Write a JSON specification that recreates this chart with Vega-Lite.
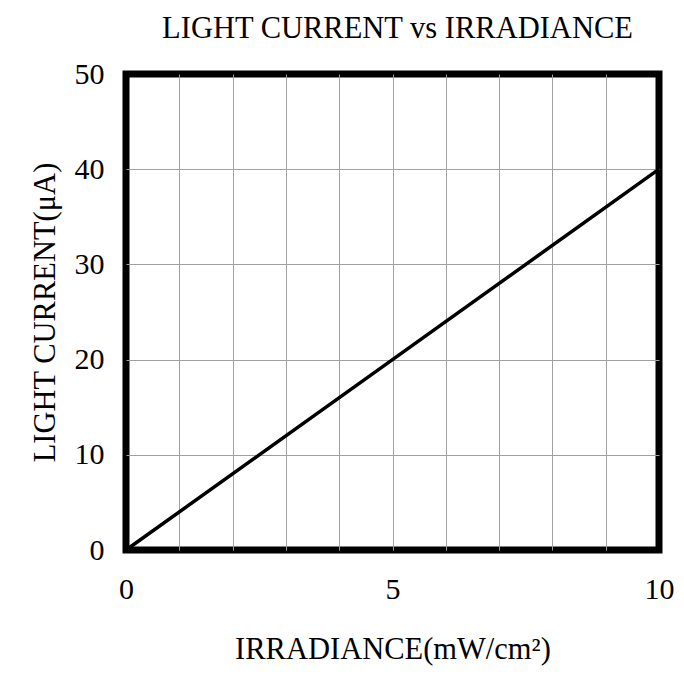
{
  "$schema": "https://vega.github.io/schema/vega-lite/v6.json",
  "autosize": "none",
  "padding": {"left": 126, "top": 74, "right": 25, "bottom": 129},
  "width": 533,
  "height": 476,
  "title": {"text": "LIGHT CURRENT vs IRRADIANCE", "font": "Liberation Serif", "fontSize": 30.5, "fontWeight": "normal", "color": "black", "offset": 15, "dx": 5, "anchor": "middle"},
  "config": {
    "view": {"stroke": "black", "strokeWidth": 7},
    "axis": {"labelFont": "Liberation Serif", "titleFont": "Liberation Serif", "labelFontSize": 30, "titleFontSize": 30.5, "titleFontWeight": "normal", "labelColor": "black", "titleColor": "black", "gridColor": "#a0a0a0", "gridWidth": 1, "domain": false, "ticks": false}
  },
  "data": {"values": [
    {"irradiance": 0, "current": 0},
    {"irradiance": 5, "current": 20},
    {"irradiance": 10, "current": 40}
  ]},
  "mark": {"type": "line", "color": "black", "strokeWidth": 3.5},
  "encoding": {
    "x": {"field": "irradiance", "type": "quantitative", "scale": {"domain": [0, 10], "nice": false},
      "axis": {"values": [0,1,2,3,4,5,6,7,8,9,10], "labelExpr": "datum.value % 5 === 0 ? datum.label : ''", "labelPadding": 24, "title": "IRRADIANCE(mW/cm²)", "titlePadding": 30, "labelFlush": false,
        "gridOpacity": {"condition": {"test": "datum.value === 0 || datum.value === 10", "value": 0}, "value": 1}}},
    "y": {"field": "current", "type": "quantitative", "scale": {"domain": [0, 50], "nice": false},
      "axis": {"values": [0,10,20,30,40,50], "labelPadding": 22, "title": "LIGHT CURRENT(μA)", "titlePadding": 14,
        "gridOpacity": {"condition": {"test": "datum.value === 0 || datum.value === 50", "value": 0}, "value": 1}}}
  }
}
